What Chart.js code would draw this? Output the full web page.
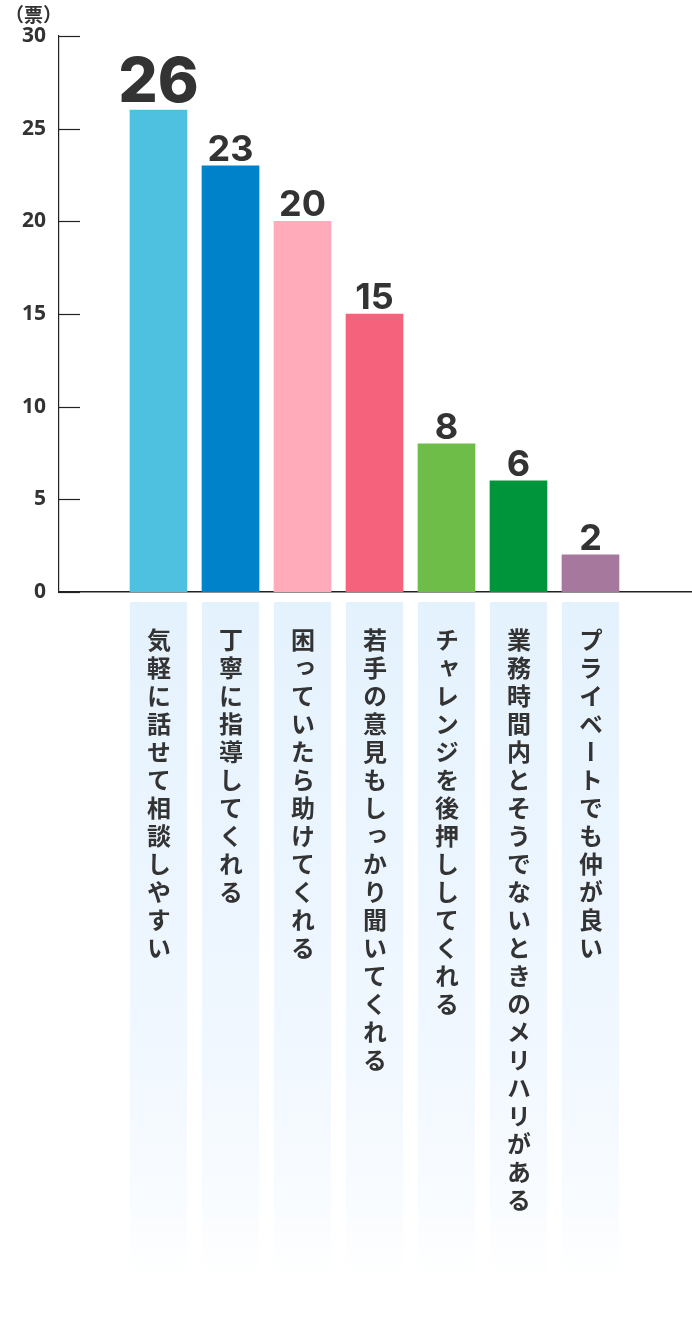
<!DOCTYPE html>
<html lang="ja">
<head>
<meta charset="utf-8">
<script src="https://cdn.jsdelivr.net/npm/chart.js@4.4.1/dist/chart.umd.min.js"></script>
<style>
    html, body { margin: 0; padding: 0; background: #fff; }
    #wrap { position: relative; width: 692px; height: 1324px; overflow: hidden; }
    #chart { position: absolute; left: 0; top: 0; }
    .cat {
        position: absolute;
        display: flex;
        justify-content: center;
        font-family: "Noto Sans CJK JP", "Noto Sans", sans-serif;
        font-weight: 700;
        font-size: 24px;
        color: #333;
    }
    .cat span { writing-mode: vertical-rl; letter-spacing: 4px; line-height: 1; }
    #unit {
        position: absolute; left: 5px; top: 0px;
        font-family: "Noto Sans CJK JP", sans-serif; font-weight: 700; font-size: 19px; color: #333;
    }
</style>
</head>
<body>
<div id="wrap">
    <canvas id="chart" width="692" height="1324"></canvas>
    <div id="unit">（票）</div>
</div>
<script>
// データ
const categories = [
    '気軽に話せて相談しやすい',
    '丁寧に指導してくれる',
    '困っていたら助けてくれる',
    '若手の意見もしっかり聞いてくれる',
    'チャレンジを後押ししてくれる',
    '業務時間内とそうでないときのメリハリがある',
    'プライベートでも仲が良い'
];
const votes = [26, 23, 20, 15, 8, 6, 2];
const barColors = ['#4fc1e0', '#0082cb', '#ffabb9', '#f4637b', '#6dbd48', '#00953b', '#a6789d'];
const yTickValues = [0, 5, 10, 15, 20, 25, 30];

const BAR_W = 57;

// 目盛りの短い線（軸の内側）
const tickMarks = {
    id: 'tickMarks',
    afterDraw(chart) {
        const ctx = chart.ctx;
        const y = chart.scales.y;
        const left = chart.chartArea.left;
        ctx.save();
        ctx.strokeStyle = '#222';
        ctx.lineWidth = 1.2;
        yTickValues.forEach(v => {
            const py = Math.round(y.getPixelForValue(v)) + 0.5;
            ctx.beginPath();
            ctx.moveTo(left, py);
            ctx.lineTo(left + 21, py);
            ctx.stroke();
        });
        ctx.restore();
    }
};

// ラベル背景（下へフェード）
const labelBoxes = {
    id: 'labelBoxes',
    beforeDatasetsDraw(chart) {
        const ctx = chart.ctx;
        const x = chart.scales.x;
        const top = chart.chartArea.bottom + 10;
        const bottom = 1318;
        ctx.save();
        categories.forEach((c, i) => {
            const cx = x.getPixelForValue(i);
            const g = ctx.createLinearGradient(0, top, 0, bottom);
            g.addColorStop(0, '#e4f2fd');
            g.addColorStop(0.6, '#f0f7ff');
            g.addColorStop(0.85, '#f9fcff');
            g.addColorStop(1, 'rgba(255,255,255,0)');
            ctx.fillStyle = g;
            ctx.fillRect(cx - BAR_W / 2, top, BAR_W, bottom - top);
        });
        ctx.restore();
    }
};

// 棒の上の数値
const valueLabels = {
    id: 'valueLabels',
    afterDatasetsDraw(chart) {
        const ctx = chart.ctx;
        const meta = chart.getDatasetMeta(0);
        ctx.save();
        ctx.fillStyle = '#333';
        ctx.textAlign = 'center';
        ctx.textBaseline = 'alphabetic';
        meta.data.forEach((bar, i) => {
            const big = i === 0;
            ctx.font = (big ? '800 62px' : '700 36px') + ' Inter, "Noto Sans", sans-serif';
            ctx.fillText(String(votes[i]), bar.x, bar.y - (big ? 8 : 5));
        });
        ctx.restore();
    }
};

const chart = new Chart(document.getElementById('chart'), {
    type: 'bar',
    data: {
        datasets: [{
            data: votes.map((v, i) => ({ x: i, y: v })),
            backgroundColor: barColors,
            borderWidth: 0,
            barThickness: BAR_W
        }]
    },
    options: {
        responsive: false,
        animation: false,
        events: [],
        layout: { padding: { left: 0, top: 36, right: 0, bottom: 732 } },
        plugins: { legend: { display: false }, tooltip: { enabled: false } },
        scales: {
            x: {
                type: 'linear',
                min: -1.382,
                max: 7.41,
                offset: false,
                grid: { display: false, drawTicks: false },
                border: { display: true, color: '#222', width: 1.5 },
                ticks: { display: false },
                afterFit(scale) { scale.height = 0; }
            },
            y: {
                min: 0,
                max: 30,
                grid: { display: false, drawTicks: false },
                border: { display: true, color: '#222', width: 1.2 },
                ticks: {
                    stepSize: 5,
                    padding: 13,
                    color: '#333',
                    font: { family: '"Noto Sans", sans-serif', size: 21, weight: '700' }
                },
                afterFit(scale) { scale.width = 59; }
            }
        }
    },
    plugins: [labelBoxes, valueLabels, tickMarks]
});

// 縦書きの項目名
const wrap = document.getElementById('wrap');
categories.forEach((c, i) => {
    const cx = chart.scales.x.getPixelForValue(i);
    const div = document.createElement('div');
    div.className = 'cat';
    div.style.left = (cx - BAR_W / 2) + 'px';
    div.style.top = (chart.chartArea.bottom + 36) + 'px';
    div.style.width = BAR_W + 'px';
    const span = document.createElement('span');
    span.textContent = c;
    div.appendChild(span);
    wrap.appendChild(div);
});
</script>
</body>
</html>
